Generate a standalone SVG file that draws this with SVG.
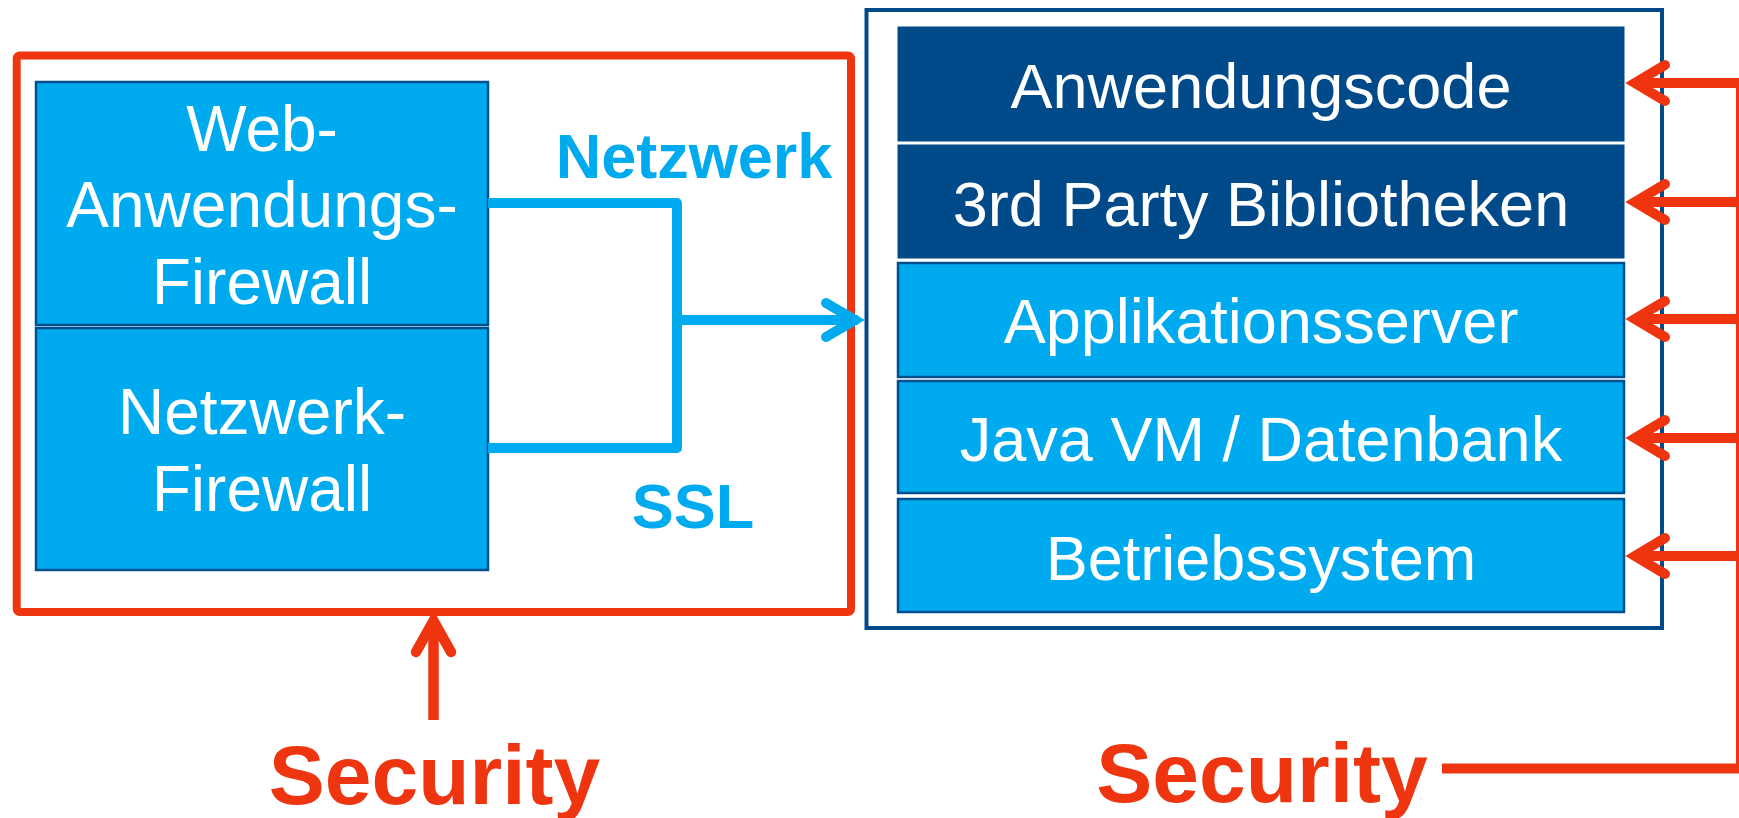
<svg xmlns="http://www.w3.org/2000/svg" width="1739" height="818" viewBox="0 0 1739 818">
  <style>
    .box-light { fill: #00AAEE; stroke: #00508F; stroke-width: 2.5; }
    .box-dark { fill: #004A8A; stroke: #004A8A; stroke-width: 1; }
    .label { font-family: "Liberation Sans", Arial, sans-serif; fill: #FFFFFF; text-anchor: middle; }
    .fw { font-size: 64px; }
    .layer { font-size: 63px; }
    .net { font-family: "Liberation Sans", Arial, sans-serif; font-weight: bold; font-size: 63px; fill: #00AAEE; text-anchor: middle; }
    .sec { font-family: "Liberation Sans", Arial, sans-serif; font-weight: bold; font-size: 84px; fill: #EF3510; text-anchor: middle; }
    .red { fill: none; stroke: #EF3510; }
    .blue { fill: none; stroke: #00AAEE; stroke-width: 10; }
  </style>

  <!-- perimeter frame -->
  <g id="perimeter">
    <rect x="16.7" y="55.5" width="834.3" height="556.5" rx="3" class="red" stroke-width="8"/>
  </g>

  <g id="waf">
    <rect x="36" y="82" width="452" height="243" class="box-light"/>
    <text class="label fw" x="262" y="151">Web-</text>
    <text class="label fw" x="262" y="227">Anwendungs-</text>
    <text class="label fw" x="262" y="304">Firewall</text>
  </g>

  <g id="nfw">
    <rect x="36" y="328" width="452" height="242" class="box-light"/>
    <text class="label fw" x="262" y="434">Netzwerk-</text>
    <text class="label fw" x="262" y="511">Firewall</text>
  </g>

  <!-- application stack -->
  <g id="stack">
    <rect x="866.5" y="10" width="795.5" height="618" fill="#FFFFFF" stroke="#004A8A" stroke-width="4"/>
  </g>
  <g id="layer-code">
    <rect x="898" y="27" width="726" height="114" class="box-dark"/>
    <text class="label layer" x="1261" y="108">Anwendungscode</text>
  </g>
  <g id="layer-libs">
    <rect x="898" y="145" width="726" height="113" class="box-dark"/>
    <text class="label layer" x="1261" y="226">3rd Party Bibliotheken</text>
  </g>
  <g id="layer-appserver">
    <rect x="898" y="263" width="726" height="114" class="box-light"/>
    <text class="label layer" x="1261" y="343">Applikationsserver</text>
  </g>
  <g id="layer-jvm">
    <rect x="898" y="381" width="726" height="112" class="box-light"/>
    <text class="label layer" x="1261" y="461">Java VM / Datenbank</text>
  </g>
  <g id="layer-os">
    <rect x="898" y="499" width="726" height="113" class="box-light"/>
    <text class="label layer" x="1261" y="580">Betriebssystem</text>
  </g>

  <!-- labels -->
  <g id="labels">
    <text class="net" x="694" y="178">Netzwerk</text>
    <text class="net" x="693" y="528">SSL</text>
    <text class="sec" x="434.5" y="804">Security</text>
    <text class="sec" x="1262" y="802">Security</text>
  </g>

  <g id="connectors">
    <!-- network / SSL path into the stack -->
    <polyline class="blue" points="488,203 677,203 677,448 488,448" stroke-linejoin="round"/>
    <line class="blue" x1="677" y1="320" x2="858" y2="320"/>
    <polyline class="blue" points="826,303 855,320 826,337" stroke-linecap="round" stroke-linejoin="miter"/>

    <!-- security for the perimeter -->
    <line class="red" x1="433.5" y1="720" x2="433.5" y2="622" stroke-width="10.5"/>
    <polyline class="red" points="416,652 433.5,621 451,652" stroke-width="10.5" stroke-linecap="round" stroke-linejoin="miter"/>

    <!-- security for each layer -->
    <path class="red" d="M1442,768.5 H1741 V83" stroke-width="10"/>
    <g class="red" stroke-width="10" stroke-linecap="round" stroke-linejoin="miter">
      <line x1="1741" y1="83" x2="1638" y2="83" stroke-linecap="butt"/>
      <polyline points="1665,65 1635,83 1665,101"/>
      <line x1="1741" y1="202" x2="1638" y2="202" stroke-linecap="butt"/>
      <polyline points="1665,184 1635,202 1665,220"/>
      <line x1="1741" y1="319" x2="1638" y2="319" stroke-linecap="butt"/>
      <polyline points="1665,301 1635,319 1665,337"/>
      <line x1="1741" y1="438" x2="1638" y2="438" stroke-linecap="butt"/>
      <polyline points="1665,420 1635,438 1665,456"/>
      <line x1="1741" y1="556" x2="1638" y2="556" stroke-linecap="butt"/>
      <polyline points="1665,538 1635,556 1665,574"/>
    </g>
  </g>
</svg>
